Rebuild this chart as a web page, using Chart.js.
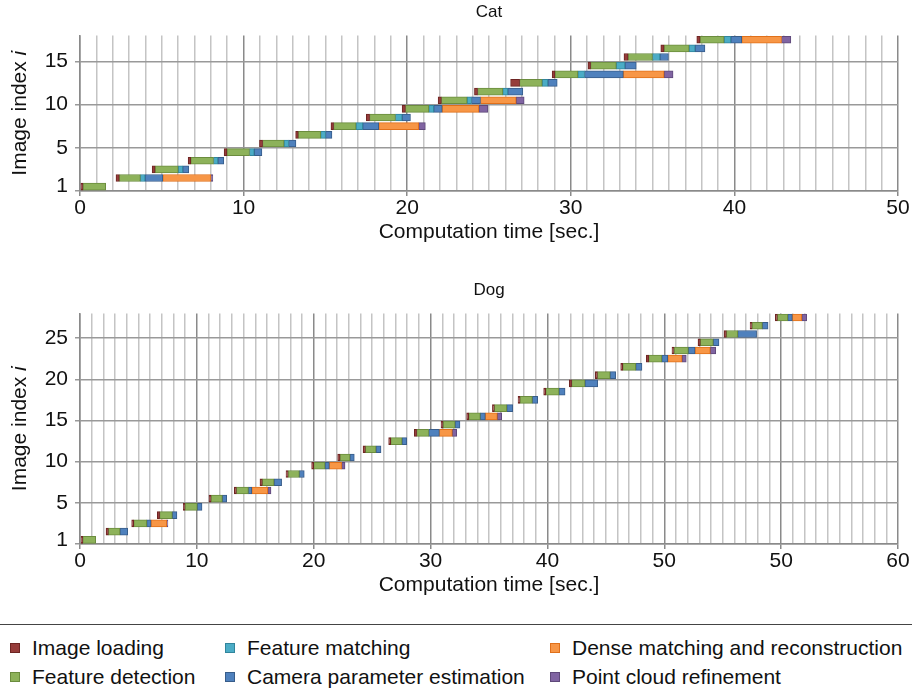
<!DOCTYPE html>
<html>
<head>
<meta charset="utf-8">
<script src="https://cdn.jsdelivr.net/npm/chart.js@4.4.1/dist/chart.umd.min.js"></script>
<style>
  body { margin: 0; background: #fff; width: 912px; height: 691px; position: relative; overflow: hidden;
         font-family: "Liberation Sans", Arial, sans-serif; color: #111; }
  #cat { position: absolute; left: 0; top: 0; }
  #dog { position: absolute; left: 0; top: 278px; }
  #legend { position: absolute; left: 0; top: 624px; width: 912px; height: 67px; border-top: 1.5px solid #444; }
  .item { position: absolute; font-size: 21px; line-height: 22px; white-space: nowrap; }
  .box { display: inline-block; width: 8px; height: 8px; border: 1px solid; margin-right: 12px; vertical-align: 2px; }
</style>
</head>
<body>
<canvas id="cat" width="912" height="248"></canvas>
<canvas id="dog" width="912" height="323"></canvas>
<div id="legend"></div>
<script>
const stages = ['Image loading', 'Feature detection', 'Feature matching',
  'Camera parameter estimation', 'Dense matching and reconstruction', 'Point cloud refinement'];
const stageFill = ['#963c3a', '#8db25a', '#4bacc6', '#4f81bd', '#f79646', '#8064a2'];
const stageLine = ['#6e2523', '#6b8c3e', '#31859c', '#385d8a', '#e0701a', '#5f497a'];

// Cat: 18 images, seconds
const catStart  = [0.05, 2.2, 4.41, 6.61, 8.81, 10.97, 13.18, 15.34, 17.5, 19.69, 21.89, 24.11, 26.32, 28.86, 31.05, 33.25, 35.5, 37.7];
const catLoad   = [0.13, 0.2, 0.18, 0.16, 0.17, 0.19, 0.16, 0.16, 0.2, 0.2, 0.2, 0.19, 0.55, 0.17, 0.16, 0.25, 0.2, 0.2];
const catDetect = [1.39, 1.29, 1.41, 1.39, 1.38, 1.31, 1.37, 1.37, 1.58, 1.43, 1.57, 1.54, 1.38, 1.4, 1.57, 1.49, 1.53, 1.47];
const catMatch  = [0, 0.29, 0.28, 0.27, 0.29, 0.28, 0.3, 0.41, 0.41, 0.3, 0.27, 0.31, 0.35, 0.41, 0.53, 0.46, 0.37, 0.41];
const catCamera = [0, 1.08, 0.37, 0.36, 0.47, 0.45, 0.39, 0.98, 0.51, 0.52, 0.55, 0.92, 0.57, 2.37, 0.69, 0.52, 0.6, 0.67];
const catDense  = [0, 2.94, 0, 0, 0, 0, 0, 2.44, 0, 2.24, 2.18, 0, 0, 2.49, 0, 0, 0, 2.43];
const catRefine = [0, 0.12, 0, 0, 0, 0, 0, 0.41, 0, 0.55, 0.49, 0, 0, 0.55, 0, 0, 0, 0.57];
const catTimeTicks  = ['0', '10', '20', '30', '40', '50'];
const catIndexTicks = ['1', '5', '10', '15'];

// Dog: 28 images (matching too short to see)
const dogStart  = [0.07, 1.91, 3.79, 5.67, 7.58, 9.46, 11.32, 13.2, 15.11, 16.99, 18.9, 20.76, 22.64, 24.52,
                   26.48, 28.36, 30.25, 32.13, 34.01, 35.89, 37.8, 39.66, 41.54, 43.42, 45.33, 47.24, 49.15, 51.0];
const dogLoad   = [0.13, 0.17, 0.15, 0.17, 0.12, 0.15, 0.15, 0.17, 0.15, 0.15, 0.17, 0.17, 0.15, 0.17,
                   0.15, 0.15, 0.14, 0.14, 0.15, 0.17, 0.15, 0.15, 0.17, 0.15, 0.17, 0.17, 0.14, 0.15];
const dogDetect = [0.95, 0.85, 0.95, 0.93, 0.9, 0.83, 0.88, 0.86, 0.83, 0.83, 0.73, 0.78, 0.83, 0.88,
                   0.88, 0.85, 0.91, 0.91, 0.97, 0.98, 0.93, 0.95, 0.96, 1.05, 0.95, 0.83, 0.76, 0.76];
const dogMatch  = [0, 0, 0, 0, 0, 0, 0, 0, 0, 0, 0, 0, 0, 0,
                   0, 0, 0, 0, 0, 0, 0, 0, 0, 0, 0, 0, 0, 0];
const dogCamera = [0, 0.57, 0.32, 0.34, 0.35, 0.32, 0.25, 0.56, 0.36, 0.32, 0.32, 0.37, 0.34, 0.79,
                   0.36, 0.37, 0.44, 0.39, 0.45, 0.93, 0.41, 0.46, 0.44, 0.49, 0.42, 1.39, 0.42, 0.34];
const dogDense  = [0, 0, 1.15, 0, 0, 0, 1.17, 0, 0, 0.9, 0, 0, 0, 0.95,
                   0, 0.88, 0, 0, 0, 0, 0, 0, 1.05, 1.12, 0, 0, 0, 0.69];
const dogRefine = [0, 0, 0.09, 0, 0, 0, 0.24, 0, 0, 0.25, 0, 0, 0, 0.32,
                   0, 0.32, 0, 0, 0, 0, 0, 0, 0.31, 0.4, 0, 0, 0, 0.36];
const dogTimeTicks  = ['0', '10', '20', '30', '40', '50', '50', '60'];
const dogIndexTicks = ['1', '5', '10', '15', '20', '25'];

const FONT = '"Liberation Sans", Arial, sans-serif';

function buildDatasets(start, parts) {
  return stages.map((name, k) => {
    const data = [];
    start.forEach((s0, i) => {
      let s = s0;
      for (let j = 0; j < k; j++) s += parts[j][i];
      const d = parts[k][i];
      if (d > 0) data.push({ x: [s, s + d], y: i + 0.5 });
    });
    return {
      label: name, data,
      backgroundColor: stageFill[k], borderColor: stageLine[k],
      borderWidth: 1, borderSkipped: false, barThickness: 7, grouped: false
    };
  });
}

// draws "Image index i" with an italic i
const yTitle = {
  id: 'yTitle',
  afterDraw(chart) {
    const { ctx, chartArea } = chart;
    const a = 'Image index ', b = 'i';
    const normal = '21px ' + FONT, italic = 'italic 21px ' + FONT;
    ctx.save();
    ctx.font = normal;
    const wa = ctx.measureText(a).width;
    ctx.font = italic;
    const wb = ctx.measureText(b).width;
    ctx.translate(20, (chartArea.top + chartArea.bottom) / 2);
    ctx.rotate(-Math.PI / 2);
    ctx.fillStyle = '#111';
    ctx.textBaseline = 'middle';
    ctx.textAlign = 'left';
    const x0 = -(wa + wb) / 2;
    ctx.font = normal;
    ctx.fillText(a, x0, 0);
    ctx.font = italic;
    ctx.fillText(b, x0 + wa, 0);
    ctx.restore();
  }
};

function makeChart(id, title, start, parts, tMax, timeTicks, count, indexTicks) {
  const nTicks = (timeTicks.length - 1) * 10;
  return new Chart(document.getElementById(id), {
    type: 'bar',
    data: { datasets: buildDatasets(start, parts) },
    plugins: [yTitle],
    options: {
      indexAxis: 'y',
      responsive: false,
      animation: false,
      layout: { padding: { left: 0, right: 14, top: 0, bottom: 0 } },
      plugins: {
        legend: { display: false },
        tooltip: { enabled: false },
        title: { display: true, fullSize: false, text: title, color: '#111',
                 font: { family: FONT, size: 17, weight: 'normal' },
                 padding: { top: 2, bottom: 13 } }
      },
      scales: {
        x: {
          type: 'linear', min: 0, max: tMax, offset: false,
          afterBuildTicks: s => { s.ticks = Array.from({ length: nTicks + 1 }, (_, k) => ({ value: k * tMax / nTicks })); },
          afterFit: s => { s.height = 57; },
          ticks: { autoSkip: false, maxRotation: 0, padding: 2, color: '#111',
                   font: { family: FONT, size: 21, lineHeight: 1 },
                   callback: (v, i) => (i % 10 === 0 ? timeTicks[i / 10] : '') },
          grid: { offset: false, color: c => (c.index % 10 === 0 ? '#8a8a8a' : '#c4c4c4'),
                  tickColor: c => (c.index % 10 === 0 ? '#8a8a8a' : 'rgba(0,0,0,0)'),
                  tickLength: 5, lineWidth: 1.5 },
          border: { color: '#8a8a8a', width: 1.5 },
          title: { display: true, text: 'Computation time [sec.]', color: '#111',
                   font: { family: FONT, size: 21, lineHeight: 1.2 }, padding: { top: 0, bottom: 3 } }
        },
        y: {
          type: 'linear', min: 0, max: count, offset: false,
          afterBuildTicks: s => { s.ticks = [{ value: 0 }].concat(indexTicks.map(l => ({ value: l === '1' ? 0.5 : +l }))); },
          afterFit: s => { s.width = 80; },
          ticks: { autoSkip: false, padding: 7, color: '#111', font: { family: FONT, size: 21 },
                   callback: (v, i) => (i === 0 ? '' : indexTicks[i - 1]) },
          grid: { offset: false,
                  color: c => (c.tick && c.tick.value === 0.5 ? 'rgba(0,0,0,0)' : '#999'),
                  tickColor: c => (c.tick && c.tick.value === 0.5 ? 'rgba(0,0,0,0)' : '#999'),
                  tickLength: 5, lineWidth: 1.5 },
          border: { color: '#8a8a8a', width: 1.5 }
        }
      }
    }
  });
}

makeChart('cat', 'Cat', catStart, [catLoad, catDetect, catMatch, catCamera, catDense, catRefine],
          50, catTimeTicks, catStart.length, catIndexTicks);
makeChart('dog', 'Dog', dogStart, [dogLoad, dogDetect, dogMatch, dogCamera, dogDense, dogRefine],
          60, dogTimeTicks, dogStart.length, dogIndexTicks);

// legend: three columns, two rows
const legend = document.getElementById('legend');
const colLeft = [10, 225, 550];
stages.forEach((name, k) => {
  const el = document.createElement('div');
  el.className = 'item';
  el.style.left = colLeft[Math.floor(k / 2)] + 'px';
  el.style.top = (k % 2 === 0 ? 12 : 41) + 'px';
  el.innerHTML = '<span class="box" style="background:' + stageFill[k] + ';border-color:' + stageLine[k] + '"></span>' + name;
  legend.appendChild(el);
});
</script>
</body>
</html>
